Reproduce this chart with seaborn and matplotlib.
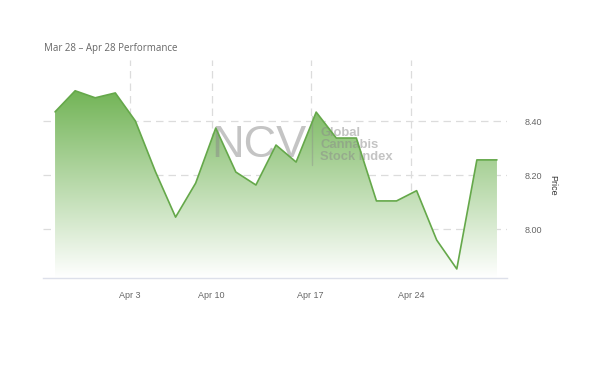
import numpy as np
import pandas as pd
import matplotlib
matplotlib.use("Agg")
import matplotlib.pyplot as plt
import seaborn as sns
from matplotlib.colors import LinearSegmentedColormap

# ---- data ----
dates = ["Mar 28", "Mar 29", "Mar 30", "Apr 2", "Apr 3", "Apr 4", "Apr 5", "Apr 6",
         "Apr 9", "Apr 10", "Apr 11", "Apr 12", "Apr 13", "Apr 16", "Apr 17", "Apr 18",
         "Apr 19", "Apr 20", "Apr 23", "Apr 24", "Apr 25", "Apr 26", "Apr 27"]
prices = [8.434, 8.512, 8.486, 8.504, 8.40, 8.212, 8.044, 8.170, 8.374, 8.211, 8.163,
          8.311, 8.248, 8.433, 8.337, 8.337, 8.104, 8.104, 8.142, 7.959, 7.852, 8.256, 8.256]
tick_pos = [3.73, 7.8, 12.72, 17.73]
tick_labels = ["Apr 3", "Apr 10", "Apr 17", "Apr 24"]
y_ticks = [8.00, 8.20, 8.40]
title = "Mar 28 \u2013 Apr 28 Performance"

df = pd.DataFrame({"idx": np.arange(len(prices)), "price": prices, "date": dates})

sns.set_theme(style="white")
plt.rcParams["font.family"] = ["Liberation Sans", "DejaVu Sans"]

fig = plt.figure(figsize=(6, 3.76), dpi=100)
ax = fig.add_axes([43/600, 1-278/376, (507-43)/600, (278-60)/376])

ymin, ymax = 7.8185, 8.626
xmin, xmax = -0.6, 22.5

# gridlines
for t in y_ticks:
    ax.axhline(t, color="#dcdcdc", lw=0.9, ls=(0, (6, 4)), zorder=0)
for t in tick_pos:
    ax.axvline(t, color="#dcdcdc", lw=0.9, ls=(0, (6, 4)), zorder=0)

# gradient fill
fill = ax.fill_between(df["idx"], df["price"], ymin, color="none", lw=0, zorder=2)
grad = np.linspace(1, 0, 256).reshape(-1, 1)
cmap = LinearSegmentedColormap.from_list("g", ["#ffffff", "#72b456"])
top = max(prices)
im = ax.imshow(grad, cmap=cmap, aspect="auto", extent=[xmin, xmax, ymin, top],
               origin="upper", zorder=2, vmin=0, vmax=1)
path = fill.get_paths()[0]
im.set_clip_path(path, transform=ax.transData)

# watermark (semi-transparent, over the fill)
ax.text(0.362, 0.61, "NCV", transform=ax.transAxes, fontsize=32.5, color="#8a8a8a",
        alpha=0.5, ha="left", va="center", zorder=2.5, family="Liberation Sans")
ax.plot([0.58, 0.58], [0.52, 0.745], transform=ax.transAxes, color="#8a8a8a",
        alpha=0.4, lw=1, zorder=2.5)
ax.text(0.597, 0.61, "Global\nCannabis\nStock Index", transform=ax.transAxes, fontsize=9.4,
        color="#8a8a8a", alpha=0.5, fontweight="bold", ha="left", va="center",
        linespacing=1.05, zorder=2.5)

sns.lineplot(data=df, x="idx", y="price", ax=ax, color="#65a84a", lw=1.2, zorder=3)

ax.set_xlim(xmin, xmax)
ax.set_ylim(ymin, ymax)
ax.set_xticks(tick_pos)
ax.set_xticklabels(tick_labels)
ax.set_yticks(y_ticks)
ax.set_yticklabels([f"{v:.2f}" for v in y_ticks])
ax.yaxis.tick_right()
ax.tick_params(axis="x", length=0, pad=9, labelsize=6.5, labelcolor="#666666")
ax.tick_params(axis="y", length=0, pad=13, labelsize=6.5, labelcolor="#666666")
for lab in ax.get_yticklabels():
    lab.set_ha("left")
ax.set_xlabel("")
ax.set_ylabel("")
for s in ["top", "right", "left"]:
    ax.spines[s].set_visible(False)
ax.spines["bottom"].set_color("#dde0ea")
ax.spines["bottom"].set_linewidth(1)

fig.text(553/600, 1-185/376, "Price", rotation=270, ha="center", va="center",
         fontsize=6.5, color="#333333")
fig.text(44/600, 1-48/376, title, ha="left", va="center", fontsize=7.0, color="#666666",
         family=["Open Sans", "DejaVu Sans"])

fig.savefig("out.png", dpi=100, facecolor="white")
